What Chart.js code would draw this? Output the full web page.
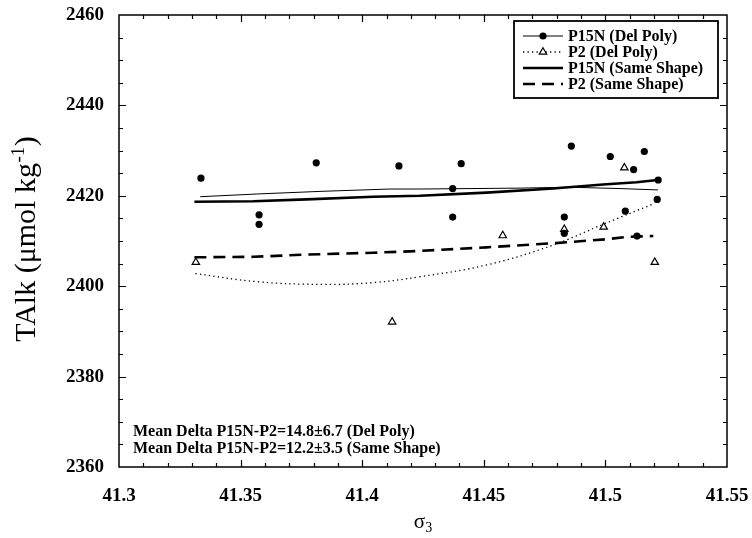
<!DOCTYPE html>
<html><head><meta charset="utf-8">
<script src="https://cdn.jsdelivr.net/npm/chart.js@4.4.0/dist/chart.umd.min.js"></script>
<style>html,body{margin:0;padding:0;background:#fff;}canvas{display:block;}</style>
</head><body>
<canvas id="c" width="752" height="538"></canvas>
<script>
// ---- data ----
const seriesNames = ['P15N (Del Poly)', 'P2 (Del Poly)', 'P15N (Same Shape)', 'P2 (Same Shape)'];

const p15nX = [41.3337, 41.3576, 41.3576, 41.3811, 41.4151, 41.4372, 41.4372, 41.4407, 41.4831, 41.4831, 41.4860, 41.5020, 41.5082, 41.5116, 41.5130, 41.5160, 41.5213, 41.5217];
const p15nY = [2423.9, 2415.8, 2413.7, 2427.3, 2426.6, 2421.6, 2415.3, 2427.1, 2415.3, 2411.7, 2431.0, 2428.7, 2416.6, 2425.8, 2411.1, 2429.8, 2419.2, 2423.5];

const p2X = [41.3316, 41.4123, 41.4578, 41.4831, 41.4993, 41.5078, 41.5203];
const p2Y = [2405.3, 2392.1, 2411.2, 2412.6, 2413.1, 2426.2, 2405.3];

const p15nPolyX = [41.3334, 41.3567, 41.3839, 41.4114, 41.4238, 41.4649, 41.4854, 41.5060, 41.5216];
const p15nPolyY = [2419.8, 2420.4, 2421.0, 2421.5, 2421.5, 2421.7, 2421.9, 2421.6, 2421.3];

const p2PolyX = [41.3314, 41.3567, 41.3840, 41.4046, 41.4238, 41.4512, 41.4785, 41.4991, 41.5197];
const p2PolyY = [2402.8, 2401.0, 2400.4, 2400.8, 2402.1, 2404.7, 2409.1, 2413.7, 2418.2];

const p15nShapeX = [41.3310, 41.3552, 41.3771, 41.4045, 41.4237, 41.4511, 41.4785, 41.4990, 41.5128, 41.5215];
const p15nShapeY = [2418.7, 2418.8, 2419.2, 2419.8, 2420.0, 2420.7, 2421.6, 2422.5, 2423.0, 2423.5];

const p2ShapeX = [41.3310, 41.3552, 41.3771, 41.4045, 41.4237, 41.4511, 41.4785, 41.5006, 41.5088, 41.5197];
const p2ShapeY = [2406.4, 2406.5, 2407.0, 2407.4, 2407.8, 2408.6, 2409.5, 2410.4, 2410.9, 2411.1];

const xTickValues = [41.3, 41.35, 41.4, 41.45, 41.5, 41.55];
const xTickLabels = ['41.3', '41.35', '41.4', '41.45', '41.5', '41.55'];
const yTickValues = [2360, 2380, 2400, 2420, 2440, 2460];
const yTickLabels = ['2360', '2380', '2400', '2420', '2440', '2460'];

const noteLines = ['Mean Delta P15N-P2=14.8\u00B16.7 (Del Poly)', 'Mean Delta P15N-P2=12.2\u00B13.5 (Same Shape)'];
const yTitleMain = 'TAlk (\u03BCmol kg';
const yTitleSup = '-1';
const yTitleEnd = ')';
const xTitleMain = '\u03C3';
const xTitleSub = '3';

// ---- helpers ----
const zip = (xs, ys) => xs.map((x, i) => ({x: x, y: ys[i]}));
const SERIF = "'Liberation Serif', 'DejaVu Serif', serif";

const datasets = [
  {label: seriesNames[0], data: zip(p15nX, p15nY), showLine: false, pointStyle: 'circle', pointRadius: 3.6,
   backgroundColor: '#000', borderColor: '#000', borderWidth: 0, order: 0},
  {label: seriesNames[1], data: zip(p2X, p2Y), showLine: false, pointStyle: 'triangle', pointRadius: 4.3,
   backgroundColor: '#fff', borderColor: '#000', borderWidth: 1.2, order: 0},
  {label: seriesNames[0] + ' fit', data: zip(p15nPolyX, p15nPolyY), showLine: true, pointRadius: 0,
   borderColor: '#000', borderWidth: 1, tension: 0, order: 1},
  {label: seriesNames[1] + ' fit', data: zip(p2PolyX, p2PolyY), showLine: true, pointRadius: 0,
   borderColor: '#000', borderWidth: 1.3, borderDash: [1.3, 3.2], tension: 0.4, order: 1},
  {label: seriesNames[2], data: zip(p15nShapeX, p15nShapeY), showLine: true, pointRadius: 0,
   borderColor: '#000', borderWidth: 2.6, tension: 0, order: 1},
  {label: seriesNames[3], data: zip(p2ShapeX, p2ShapeY), showLine: true, pointRadius: 0,
   borderColor: '#000', borderWidth: 2.6, borderDash: [12, 7], tension: 0, order: 1}
];

// legend entries: [line dataset index, marker dataset index or null]
const legendMap = [[2, 0], [3, 1], [4, null], [5, null]];

const decor = {
  id: 'decor',
  afterDraw(chart) {
    const ctx = chart.ctx;
    const xs = chart.scales.x, ys = chart.scales.y;
    const {left, right, top, bottom} = chart.chartArea;
    ctx.save();
    ctx.strokeStyle = '#000';
    ctx.fillStyle = '#000';
    // frame
    ctx.lineWidth = 1.5;
    ctx.strokeRect(left, top, right - left, bottom - top);
    // inward ticks
    ctx.lineWidth = 1.2;
    ctx.beginPath();
    for (let i = 1; i < 25; i++) {
      const px = Math.round(xs.getPixelForValue(xs.min + i * 0.01)) + 0.5;
      const len = i % 5 === 0 ? 7 : 4;
      ctx.moveTo(px, bottom); ctx.lineTo(px, bottom - len);
      ctx.moveTo(px, top); ctx.lineTo(px, top + len);
    }
    for (let i = 1; i < 20; i++) {
      const py = Math.round(ys.getPixelForValue(ys.min + i * 5)) + 0.5;
      const len = i % 4 === 0 ? 7 : 4;
      ctx.moveTo(left, py); ctx.lineTo(left + len, py);
      ctx.moveTo(right, py); ctx.lineTo(right - len, py);
    }
    ctx.stroke();

    // legend box
    const bx = right - 213, by = top + 6, bw = 204, bh = 77;
    ctx.fillStyle = '#fff';
    ctx.fillRect(bx, by, bw, bh);
    ctx.lineWidth = 1.8;
    ctx.strokeStyle = '#000';
    ctx.strokeRect(bx, by, bw, bh);
    ctx.font = 'bold 16px ' + SERIF;
    ctx.textBaseline = 'middle';
    ctx.textAlign = 'left';
    legendMap.forEach((m, i) => {
      const ry = by + 15 + i * 16;
      const ld = chart.data.datasets[m[0]];
      ctx.save();
      ctx.strokeStyle = ld.borderColor;
      ctx.lineWidth = ld.borderWidth;
      ctx.setLineDash(ld.borderDash || []);
      ctx.beginPath();
      ctx.moveTo(bx + 9, ry); ctx.lineTo(bx + 49, ry);
      ctx.stroke();
      ctx.restore();
      if (m[1] !== null) {
        const pd = chart.data.datasets[m[1]];
        ctx.save();
        ctx.setLineDash([]);
        ctx.fillStyle = pd.backgroundColor; ctx.strokeStyle = pd.borderColor; ctx.lineWidth = pd.borderWidth || 0.01;
        Chart.helpers.drawPoint(ctx, {pointStyle: pd.pointStyle, radius: pd.pointRadius, borderWidth: pd.borderWidth, rotation: 0}, bx + 29, ry);
        ctx.restore();
      }
      ctx.fillStyle = '#000';
      ctx.fillText(seriesNames[i], bx + 54, ry + 1);
    });

    // notes
    ctx.font = 'bold 16px ' + SERIF;
    ctx.textBaseline = 'alphabetic';
    ctx.fillStyle = '#000';
    ctx.fillText(noteLines[0], left + 14, bottom - 31);
    ctx.fillText(noteLines[1], left + 14, bottom - 14);

    // y title
    ctx.save();
    const fMain = '30px ' + SERIF, fSup = '19px ' + SERIF;
    ctx.font = fMain; const w1 = ctx.measureText(yTitleMain).width; const w3 = ctx.measureText(yTitleEnd).width;
    ctx.font = fSup; const w2 = ctx.measureText(yTitleSup).width;
    const tot = w1 + w2 + w3 + 1;
    const cy = 239;
    ctx.translate(35, cy);
    ctx.rotate(-Math.PI / 2);
    ctx.textAlign = 'left';
    ctx.textBaseline = 'alphabetic';
    let x0 = -tot / 2;
    ctx.font = fMain; ctx.fillText(yTitleMain, x0, 0);
    ctx.font = fSup; ctx.fillText(yTitleSup, x0 + w1 + 0.5, -11);
    ctx.font = fMain; ctx.fillText(yTitleEnd, x0 + w1 + w2 + 1, 0);
    ctx.restore();

    // x title
    ctx.save();
    const fx = '21px ' + SERIF, fs = '14px ' + SERIF;
    ctx.font = fx; const a = ctx.measureText(xTitleMain).width;
    ctx.font = fs; const b = ctx.measureText(xTitleSub).width;
    const cx = (left + right) / 2 - (a + b) / 2;
    ctx.textAlign = 'left'; ctx.textBaseline = 'alphabetic';
    ctx.font = fx; ctx.fillText(xTitleMain, cx, 528);
    ctx.font = fs; ctx.fillText(xTitleSub, cx + a, 532);
    ctx.restore();

    ctx.restore();
  }
};

const tickFont = {family: SERIF, size: 19, weight: 'bold'};

new Chart(document.getElementById('c'), {
  type: 'scatter',
  data: {datasets: datasets},
  options: {
    responsive: false,
    animation: false,
    devicePixelRatio: 1,
    layout: {autoPadding: false, padding: {left: 0, top: 15, right: 25, bottom: 0}},
    plugins: {legend: {display: false}, tooltip: {enabled: false}},
    scales: {
      x: {
        type: 'linear', min: 41.3, max: 41.55,
        afterBuildTicks: s => { s.ticks = xTickValues.map(v => ({value: v})); },
        afterFit: s => { s.height = 71; s.paddingLeft = 0; s.paddingRight = 0; },
        grid: {display: false, drawTicks: false},
        border: {display: false},
        ticks: {font: tickFont, color: '#000', padding: 18, maxRotation: 0, autoSkip: false,
                callback: (v, i) => xTickLabels[i]}
      },
      y: {
        type: 'linear', min: 2360, max: 2460,
        afterBuildTicks: s => { s.ticks = yTickValues.map(v => ({value: v})); },
        afterFit: s => { s.width = 119; s.paddingTop = 0; s.paddingBottom = 0; },
        grid: {display: false, drawTicks: false},
        border: {display: false},
        ticks: {font: tickFont, color: '#000', padding: 15, autoSkip: false,
                callback: (v, i) => yTickLabels[i]}
      }
    }
  },
  plugins: [decor]
});
</script></body></html>
